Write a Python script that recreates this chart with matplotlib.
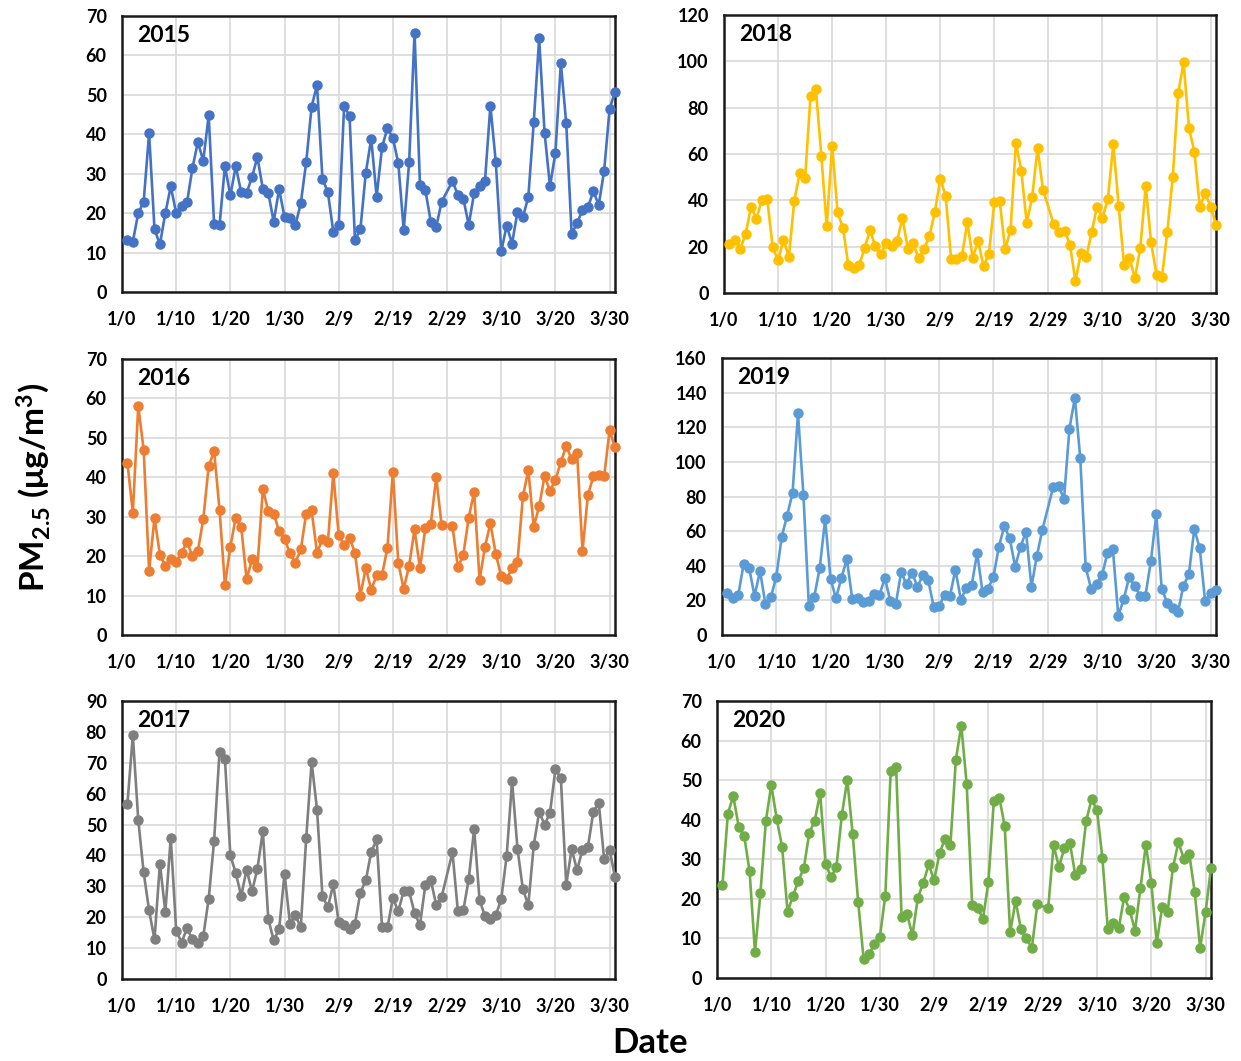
import matplotlib
matplotlib.use("Agg")
import matplotlib.pyplot as plt

plt.rcParams['font.family'] = ['Lato', 'DejaVu Sans']
plt.rcParams['mathtext.fontset'] = 'custom'
plt.rcParams['mathtext.bf'] = 'Lato:bold'
plt.rcParams['mathtext.rm'] = 'Lato:bold'
plt.rcParams['mathtext.default'] = 'bf'

# day of year (Jan 1 = 1), Feb 29 not in the records
days = list(range(1, 60)) + list(range(61, 92))

tick_pos = [0, 10, 20, 30, 40, 50, 60, 70, 80, 90]
tick_lab = ['1/0', '1/10', '1/20', '1/30', '2/9', '2/19', '2/29', '3/10', '3/20', '3/30']

pm_2015 = [13.2, 12.8, 20.0, 22.9, 40.3, 15.9, 12.1, 20.0, 26.8, 20.0,
           21.7, 22.7, 31.4, 38.0, 33.3, 44.8, 17.3, 16.9, 32.0, 24.5,
           31.9, 25.3, 25.1, 29.2, 34.2, 26.1, 25.2, 17.8, 26.1, 19.0,
           18.8, 16.9, 22.5, 32.9, 47.0, 52.5, 28.7, 25.3, 15.3, 16.9,
           47.1, 44.7, 13.2, 15.9, 30.2, 38.9, 24.2, 36.7, 41.6, 39.0,
           32.7, 15.7, 32.9, 65.8, 27.2, 25.8, 17.8, 16.5, 22.9,
           28.1, 24.6, 23.7, 17.0, 25.1, 26.8, 28.1, 47.3, 32.9, 10.3,
           16.8, 12.3, 20.3, 19.0, 24.1, 43.0, 64.3, 40.4, 26.8, 35.3,
           58.1, 42.8, 14.7, 17.5, 20.8, 21.5, 25.5, 22.1, 30.8, 46.4, 50.8]

pm_2016 = [43.7, 31.0, 58.0, 47.0, 16.3, 29.7, 20.4, 17.5, 19.4, 18.6,
           20.8, 23.6, 20.0, 21.2, 29.4, 42.8, 46.7, 31.8, 12.7, 22.4,
           29.8, 27.5, 14.1, 19.2, 17.3, 37.0, 31.4, 30.8, 26.3, 24.4,
           20.7, 18.3, 21.7, 30.8, 31.6, 20.8, 24.4, 23.5, 41.0, 25.3,
           22.7, 24.7, 20.8, 10.0, 17.0, 11.5, 15.1, 15.3, 22.1, 41.4,
           18.2, 11.7, 17.6, 26.8, 16.9, 27.2, 28.2, 40.0, 27.8,
           27.6, 17.2, 20.3, 29.8, 36.3, 13.9, 22.4, 28.3, 20.5, 14.9,
           14.2, 17.0, 18.6, 35.2, 41.8, 27.5, 32.6, 40.3, 36.6, 39.3,
           43.9, 47.9, 44.6, 46.2, 21.4, 35.5, 40.2, 40.6, 40.3, 51.9, 47.6]

pm_2017 = [56.7, 78.9, 51.5, 34.5, 22.2, 12.8, 37.3, 21.7, 45.8, 15.7,
           11.8, 16.4, 12.8, 11.5, 13.8, 26.0, 44.7, 73.6, 71.3, 40.0,
           34.3, 26.9, 35.4, 28.4, 35.7, 47.9, 19.5, 12.5, 16.1, 34.1,
           17.9, 20.6, 16.7, 45.6, 70.3, 54.8, 26.9, 23.2, 30.6, 18.4,
           17.4, 16.3, 17.9, 28.0, 31.9, 41.1, 45.2, 16.7, 16.7, 26.2,
           21.9, 28.5, 28.4, 21.3, 17.5, 30.5, 32.0, 24.0, 26.6,
           41.0, 21.9, 22.2, 32.3, 48.6, 25.5, 20.4, 19.5, 20.7, 25.8,
           39.8, 64.1, 42.2, 29.0, 24.0, 43.3, 54.0, 50.0, 53.7, 67.9,
           65.1, 30.5, 42.1, 35.2, 41.9, 42.7, 54.1, 57.0, 38.8, 41.8, 33.0]

pm_2018 = [21.0, 23.0, 18.9, 25.5, 37.2, 32.1, 40.2, 40.5, 19.8, 14.2,
           22.8, 15.6, 39.9, 51.6, 49.5, 85.0, 87.9, 59.3, 28.8, 63.6,
           34.9, 28.2, 12.0, 10.6, 11.9, 19.4, 27.0, 20.2, 16.8, 21.5,
           20.1, 22.3, 32.4, 19.2, 21.4, 15.0, 18.8, 24.7, 34.9, 49.3,
           41.9, 14.8, 14.5, 15.8, 30.5, 15.2, 22.4, 11.7, 16.9, 39.2,
           39.5, 18.8, 27.2, 64.9, 52.5, 30.1, 41.5, 62.6, 44.5,
           29.6, 26.2, 26.9, 20.8, 5.1, 17.1, 15.5, 26.2, 37.3, 32.5,
           40.5, 64.2, 37.7, 12.0, 14.9, 6.5, 19.5, 46.3, 21.8, 7.8,
           6.8, 26.5, 49.9, 86.3, 99.5, 71.3, 60.9, 37.2, 43.1, 37.3, 29.5]

pm_2019 = [24.4, 21.6, 23.1, 41.2, 38.7, 22.5, 37.0, 17.9, 21.8, 33.5,
           56.8, 68.9, 82.2, 128.0, 80.8, 16.7, 22.1, 38.7, 66.8, 32.3,
           21.2, 33.1, 43.7, 20.8, 21.2, 19.2, 19.8, 23.9, 23.1, 32.9,
           19.8, 17.7, 36.2, 29.3, 36.0, 27.9, 34.5, 31.6, 16.2, 16.7,
           23.3, 22.7, 37.7, 20.4, 27.1, 28.7, 47.5, 24.8, 26.8, 33.5,
           51.0, 62.8, 55.8, 39.5, 51.0, 59.7, 27.9, 45.6, 60.6,
           85.3, 86.2, 78.5, 119.2, 136.9, 102.0, 39.1, 26.6, 29.3, 34.5,
           47.2, 49.7, 11.2, 20.6, 33.3, 28.5, 22.7, 22.7, 42.5, 69.7,
           26.6, 18.7, 15.4, 13.3, 28.5, 35.0, 61.2, 50.2, 19.4, 24.1, 25.8]

pm_2020 = [23.5, 41.5, 46.0, 38.2, 36.0, 27.0, 6.5, 21.5, 39.6, 48.8,
           40.2, 33.1, 16.7, 20.8, 24.6, 27.8, 36.7, 39.7, 46.7, 28.9,
           25.4, 28.1, 41.2, 50.1, 36.3, 19.3, 4.9, 6.0, 8.5, 10.3,
           20.8, 52.3, 53.3, 15.5, 16.2, 10.8, 20.3, 24.0, 28.7, 24.7,
           31.5, 35.2, 33.6, 55.2, 63.8, 48.9, 18.4, 17.6, 15.0, 24.3,
           44.8, 45.6, 38.4, 11.5, 19.5, 12.3, 10.0, 7.6, 18.6,
           17.6, 33.5, 28.1, 32.9, 34.2, 26.0, 27.6, 39.6, 45.2, 42.4,
           30.2, 12.3, 14.0, 12.6, 20.4, 17.3, 12.0, 22.7, 33.7, 24.1,
           8.9, 17.9, 16.6, 28.0, 34.3, 30.1, 31.3, 21.7, 7.6, 16.6, 27.8]

W, H = 1241, 1061
fig = plt.figure(figsize=(W / 100, H / 100), dpi=100)


def panel(box, year, vals, color, ymax, ystep):
    x0, y0, x1, y1 = box  # pixel box: left, top, right, bottom
    ax = fig.add_axes([x0 / W, 1 - y1 / H, (x1 - x0) / W, (y1 - y0) / H])
    ax.plot(days, vals, '-o', color=color, lw=1.9, ms=6.5, clip_on=False, zorder=3)
    ax.set_xlim(0, 91)
    ax.set_ylim(0, ymax)
    ax.set_xticks(tick_pos)
    ax.set_xticklabels(tick_lab)
    ax.set_yticks(range(0, ymax + 1, ystep))
    ax.grid(True, color='#d9d9d9', lw=1.2, zorder=0)
    ax.set_axisbelow(True)
    ax.tick_params(length=0, labelsize=13)
    ax.tick_params(axis='x', pad=14)
    ax.tick_params(axis='y', pad=11)
    for lab in ax.get_xticklabels() + ax.get_yticklabels():
        lab.set_fontweight('bold')
    for sp in ax.spines.values():
        sp.set_linewidth(1.8)
        sp.set_color('#1a1a1a')
    ax.text(0.03, 0.93, year, transform=ax.transAxes, fontsize=16.5,
            fontweight='bold', va='center', ha='left')
    return ax


panel((122, 16, 615, 292), '2015', pm_2015, '#4472C4', 70, 10)
panel((724, 15, 1216, 293), '2018', pm_2018, '#FFC000', 120, 20)
panel((122, 359, 615, 635), '2016', pm_2016, '#ED7D31', 70, 10)
panel((722, 358, 1216, 635), '2019', pm_2019, '#5B9BD5', 160, 20)
panel((122, 701, 615, 979), '2017', pm_2017, '#7F7F7F', 90, 10)
panel((717, 701, 1211, 978), '2020', pm_2020, '#70AD47', 70, 10)

fig.text(33 / W, 1 - 487 / H, 'PM$_{2.5}$ (μg/m$^{3}$)', rotation=90,
         fontsize=24, fontweight='bold', ha='center', va='center')
fig.text(650 / W, 1 - 1043 / H, 'Date', fontsize=25, fontweight='bold',
         ha='center', va='center')

fig.savefig('out.png', dpi=100)
